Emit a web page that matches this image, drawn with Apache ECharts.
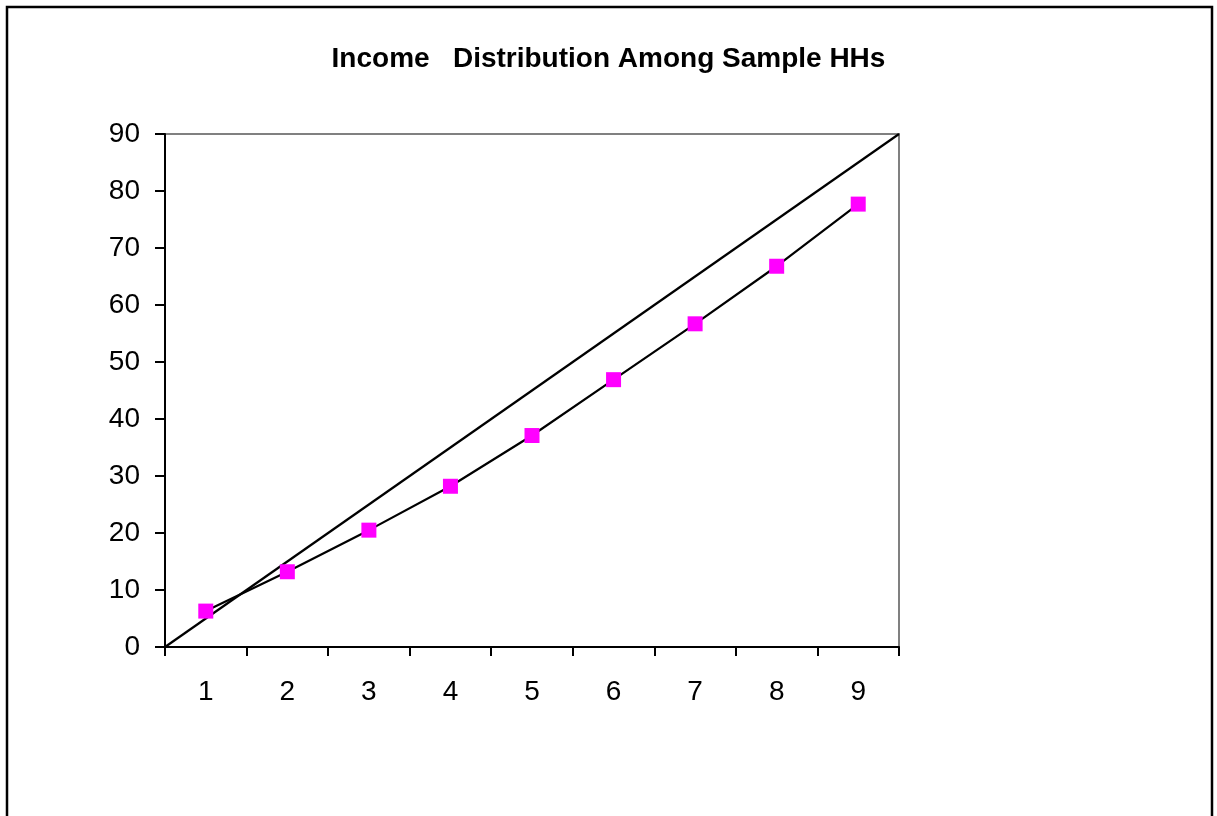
<!DOCTYPE html>
<html>
<head>
<meta charset="utf-8">
<script src="https://cdn.jsdelivr.net/npm/echarts@6/dist/echarts.min.js"></script>
<style>
html,body{margin:0;padding:0;background:#fff;}
#chart{width:1217px;height:816px;}
</style>
</head>
<body>
<div id="chart"></div>
<script>
var titleText = 'Income   Distribution Among Sample HHs';
var categories = ['1','2','3','4','5','6','7','8','9'];
var incomeShare = [6.3, 13.2, 20.5, 28.2, 37.1, 46.9, 56.7, 66.8, 77.7];
var equalityX = [0, 9];
var equalityY = [0, 90];
var yTicks = {min: 0, max: 90, interval: 10};

var chart = echarts.init(document.getElementById('chart'));
var font = '"Liberation Sans", Arial, sans-serif';
chart.setOption({
  backgroundColor: '#fff',
  animation: false,
  title: {
    text: titleText,
    left: 'center',
    top: 40,
    textStyle: {fontFamily: font, fontSize: 28, fontWeight: 'bold', color: '#000'}
  },
  graphic: [{
    type: 'rect',
    shape: {x: 7, y: 7, width: 1205, height: 900},
    style: {fill: 'none', stroke: '#000', lineWidth: 2.5},
    silent: true
  }],
  grid: {
    left: 165, right: 318, top: 134, bottom: 169,
    show: true, borderColor: '#808080', borderWidth: 2, backgroundColor: '#fff'
  },
  xAxis: [{
    type: 'category',
    data: categories,
    boundaryGap: true,
    axisLine: {lineStyle: {color: '#000', width: 2}},
    axisTick: {show: true, length: 9, lineStyle: {color: '#000', width: 2}},
    axisLabel: {color: '#000', fontFamily: font, fontSize: 28, margin: 31},
    splitLine: {show: false}
  }, {
    type: 'value',
    min: equalityX[0], max: equalityX[1],
    show: false
  }],
  yAxis: {
    type: 'value',
    min: yTicks.min, max: yTicks.max, interval: yTicks.interval,
    axisLine: {show: true, lineStyle: {color: '#000', width: 2}},
    axisTick: {show: true, length: 10, lineStyle: {color: '#000', width: 2}},
    axisLabel: {color: '#000', fontFamily: font, fontSize: 28, margin: 25},
    splitLine: {show: false}
  },
  series: [{
    type: 'line',
    xAxisIndex: 1,
    data: equalityX.map(function (x, i) { return [x, equalityY[i]]; }),
    symbol: 'none',
    lineStyle: {color: '#000', width: 2.2},
    z: 3
  }, {
    type: 'line',
    xAxisIndex: 0,
    data: incomeShare,
    symbol: 'rect',
    symbolSize: 15,
    itemStyle: {color: '#FF00FF'},
    lineStyle: {color: '#000', width: 2.2},
    z: 4
  }]
});
</script>
</body>
</html>
